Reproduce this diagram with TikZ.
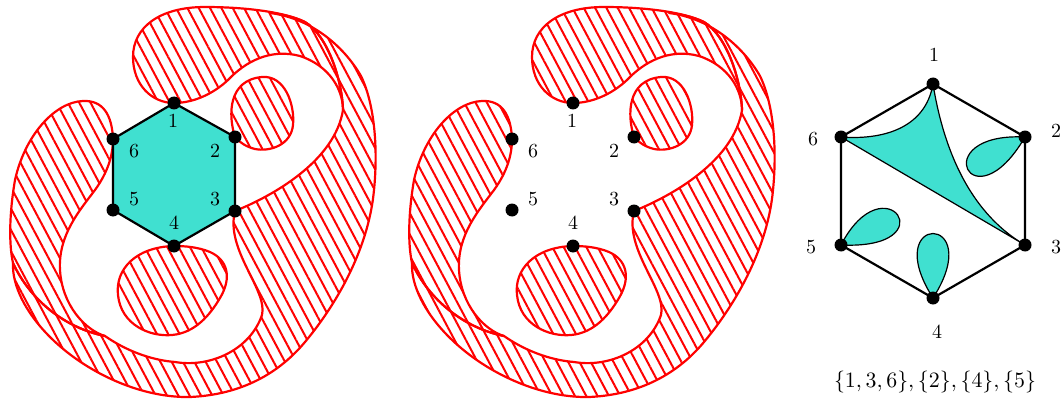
\documentclass[tikz,border=0pt]{standalone}
\usetikzlibrary{patterns.meta}
\definecolor{turq}{RGB}{64,224,208}
\tikzset{
  hatch/.style={draw=red, line width=1.1pt, line join=round,
    pattern={Lines[angle=-62,distance=5pt,line width=1pt]}, pattern color=red},
  hexa/.style={draw=black, line width=1.1pt, fill=turq, line join=round},
  hexedge/.style={draw=black, line width=1.1pt, line join=round},
  dot/.style={circle, fill=black, inner sep=0pt, minimum size=6.5pt},
  lab/.style={inner sep=0pt, font=\fontsize{10}{12}\selectfont},
  petal/.style={fill=turq, draw=black, line width=0.6pt, line join=round},
}
\newcommand{\myblobs}{%
  % top blob
  \path[hatch] (174,103) .. controls (152,103) and (133,85) .. (133,57)
    .. controls (133,27) and (160,7) .. (205,7)
    .. controls (245,7) and (285,12) .. (305,22)
    .. controls (328,36) and (342,80) .. (343,110)
    .. controls (343,90) and (330,66) .. (300,56)
    .. controls (270,48) and (245,62) .. (228,80)
    .. controls (212,95) and (192,103) .. (174,103) -- cycle;
  % left band
  \path[hatch] (113,139) .. controls (112,115) and (103,100) .. (83,101)
    .. controls (55,102) and (25,135) .. (15,180)
    .. controls (9,215) and (9,245) .. (13,263)
    .. controls (30,300) and (65,328) .. (105,336)
    .. controls (85,330) and (62,305) .. (60,270)
    .. controls (58,235) and (80,210) .. (95,190)
    .. controls (108,172) and (113,155) .. (113,139) -- cycle;
  % right and bottom band
  \path[hatch] (270,13) .. controls (310,18) and (343,45) .. (361,76)
    .. controls (375,105) and (378,150) .. (374,190)
    .. controls (369,245) and (340,300) .. (305,342)
    .. controls (275,378) and (235,395) .. (190,397)
    .. controls (140,398) and (85,372) .. (50,337)
    .. controls (25,312) and (12,285) .. (13,263)
    .. controls (30,300) and (65,328) .. (105,336)
    .. controls (125,350) and (150,360) .. (175,362)
    .. controls (210,368) and (250,350) .. (262,315)
    .. controls (268,290) and (225,250) .. (235,211)
    .. controls (275,195) and (335,160) .. (343,110)
    .. controls (342,80) and (328,36) .. (305,22)
    .. controls (292,16) and (280,14) .. (270,13) -- cycle;
  % blob at 2
  \path[hatch] (235,137) .. controls (228,115) and (228,80) .. (262,77)
    .. controls (285,75) and (295,105) .. (293,125)
    .. controls (291,145) and (270,152) .. (255,149)
    .. controls (247,147) and (240,143) .. (235,137) -- cycle;
  % blob at 4
  \path[hatch] (174,246) .. controls (135,247) and (115,270) .. (118,295)
    .. controls (121,325) and (150,337) .. (172,335)
    .. controls (195,333) and (210,315) .. (220,298)
    .. controls (232,278) and (228,260) .. (210,252)
    .. controls (198,247) and (185,246) .. (174,246) -- cycle;
}
\begin{document}
\begin{tikzpicture}[x=0.5pt,y=-0.5pt]
\useasboundingbox (0,0) rectangle (1064,401);
% ---------- left panel ----------
\myblobs
\coordinate (a1) at (174,103);
\coordinate (a2) at (235,137);
\coordinate (a3) at (235,211);
\coordinate (a4) at (174,246);
\coordinate (a5) at (113,210);
\coordinate (a6) at (113,139);
\draw[hexa] (a1) -- (a2) -- (a3) -- (a4) -- (a5) -- (a6) -- cycle;
\foreach \i in {1,...,6} \node[dot] (da\i) at (a\i) {};
\node[lab] (la1) at (173,121) {1};
\node[lab] (la2) at (215,151) {2};
\node[lab] (la3) at (215,199) {3};
\node[lab] (la4) at (174,223) {4};
\node[lab] (la5) at (134,199) {5};
\node[lab] (la6) at (134,151) {6};
% ---------- middle panel ----------
\begin{scope}[xshift=199.5pt]
\myblobs
\coordinate (b1) at (174,103);
\coordinate (b2) at (235,137);
\coordinate (b3) at (235,211);
\coordinate (b4) at (174,246);
\coordinate (b5) at (113,210);
\coordinate (b6) at (113,139);
\foreach \i in {1,...,6} \node[dot] (db\i) at (b\i) {};
\node[lab] (lb1) at (173,121) {1};
\node[lab] (lb2) at (215,151) {2};
\node[lab] (lb3) at (215,199) {3};
\node[lab] (lb4) at (174,223) {4};
\node[lab] (lb5) at (134,199) {5};
\node[lab] (lb6) at (134,151) {6};
\end{scope}
% ---------- right panel ----------
\coordinate (r1) at (933,84);
\coordinate (r2) at (1025,137);
\coordinate (r3) at (1025,245);
\coordinate (r4) at (933,298);
\coordinate (r5) at (841,245);
\coordinate (r6) at (841,137);
\draw[hexedge] (r1) -- (r2) -- (r3) -- (r4) -- (r5) -- (r6) -- cycle;
\draw[petal] (r6) -- (r3) .. controls (965,210) and (942,140) .. (r1)
  .. controls (925,130) and (880,140) .. (r6) -- cycle;
\draw[petal] (r2) .. controls (925,132) and (972,228) .. (r2) -- cycle;
\draw[petal] (r5) .. controls (885,160) and (948,250) .. (r5) -- cycle;
\draw[petal] (r4) .. controls (878,212) and (988,212) .. (r4) -- cycle;
\foreach \i in {1,...,6} \node[dot] (dr\i) at (r\i) {};
\node[lab] (lr1) at (934,55) {1};
\node[lab] (lr2) at (1056,131) {2};
\node[lab] (lr3) at (1056,247) {3};
\node[lab] (lr4) at (937,332) {4};
\node[lab] (lr5) at (811,247) {5};
\node[lab] (lr6) at (813,139) {6};
\node[inner sep=0pt, font=\fontsize{11}{13}\selectfont] (cap) at (935,382) {$\{1,3,6\},\{2\},\{4\},\{5\}$};
\end{tikzpicture}
\end{document}
